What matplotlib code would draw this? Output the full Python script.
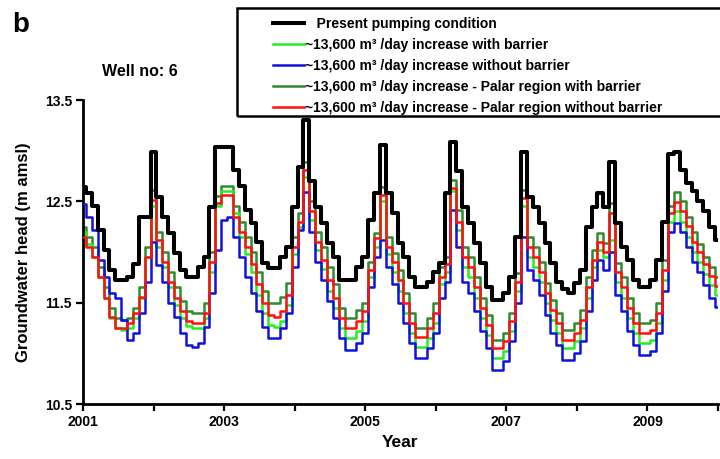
import numpy as np
import matplotlib
matplotlib.use("Agg")
import matplotlib.pyplot as plt
from matplotlib.patches import Rectangle

plt.rcParams['font.family'] = ['Liberation Sans', 'DejaVu Sans']
plt.rcParams['font.weight'] = 'bold'

# monthly index from Jan 2001 to Jan 2010
months = np.arange(109)
start_year = 2001

present = [12.64, 12.58, 12.45, 12.22, 12.02, 11.82, 11.72, 11.72, 11.75, 11.88, 12.35, 12.35,
           12.99, 12.54, 12.35, 12.19, 11.99, 11.82, 11.75, 11.75, 11.85, 11.95, 12.44, 13.04,
           13.04, 13.04, 12.81, 12.65, 12.41, 12.29, 12.10, 11.89, 11.84, 11.84, 11.95, 12.05,
           12.44, 12.84, 13.30, 12.70, 12.44, 12.29, 12.09, 11.95, 11.72, 11.72, 11.72, 11.85,
           11.95, 12.32, 12.58, 13.06, 12.58, 12.38, 12.09, 11.95, 11.75, 11.65, 11.65, 11.70,
           11.80, 11.89, 12.58, 13.09, 12.80, 12.44, 12.29, 12.09, 11.89, 11.65, 11.53, 11.53,
           11.60, 11.75, 12.15, 12.99, 12.54, 12.44, 12.29, 12.09, 11.89, 11.70, 11.63, 11.60,
           11.69, 11.82, 12.25, 12.44, 12.58, 12.44, 12.89, 12.29, 12.05, 11.92, 11.72, 11.65,
           11.65, 11.72, 11.92, 12.30, 12.97, 12.99, 12.81, 12.68, 12.60, 12.50, 12.40, 12.25, 12.12]

with_barrier = [12.20, 12.08, 11.95, 11.75, 11.55, 11.35, 11.25, 11.23, 11.25, 11.35, 11.55, 11.95,
                12.45, 12.05, 11.85, 11.65, 11.48, 11.35, 11.27, 11.25, 11.25, 11.35, 11.80, 12.45,
                12.60, 12.60, 12.38, 12.15, 11.98, 11.80, 11.58, 11.40, 11.28, 11.26, 11.32, 11.48,
                11.98, 12.25, 12.74, 12.32, 12.02, 11.83, 11.62, 11.45, 11.25, 11.15, 11.15, 11.22,
                11.32, 11.75, 12.05, 12.50, 11.98, 11.80, 11.62, 11.40, 11.20, 11.06, 11.06, 11.15,
                11.30, 11.68, 11.80, 12.60, 12.22, 11.85, 11.75, 11.55, 11.35, 11.18, 10.95, 10.95,
                11.02, 11.22, 11.62, 12.45, 11.95, 11.85, 11.70, 11.50, 11.33, 11.20, 11.05, 11.05,
                11.12, 11.25, 11.55, 11.85, 12.02, 11.95, 12.12, 11.70, 11.55, 11.35, 11.20, 11.10,
                11.10, 11.13, 11.30, 11.72, 12.30, 12.40, 12.30, 12.15, 12.00, 11.90, 11.78, 11.67, 11.58]

without_barrier = [12.47, 12.35, 12.22, 11.92, 11.75, 11.60, 11.55, 11.33, 11.13, 11.20, 11.40, 11.70,
                   12.10, 11.87, 11.70, 11.50, 11.36, 11.20, 11.08, 11.06, 11.10, 11.26, 11.60, 12.02,
                   12.32, 12.35, 12.15, 11.95, 11.75, 11.60, 11.42, 11.26, 11.15, 11.15, 11.25, 11.40,
                   11.85, 12.22, 12.59, 12.20, 11.90, 11.72, 11.52, 11.35, 11.15, 11.03, 11.03, 11.10,
                   11.20, 11.65, 11.95, 12.12, 11.85, 11.68, 11.50, 11.30, 11.10, 10.95, 10.95, 11.05,
                   11.20, 11.55, 11.70, 12.41, 12.05, 11.70, 11.60, 11.42, 11.22, 11.05, 10.84, 10.84,
                   10.92, 11.12, 11.50, 12.15, 11.82, 11.72, 11.58, 11.38, 11.20, 11.08, 10.93, 10.93,
                   11.00, 11.12, 11.42, 11.72, 11.92, 11.82, 12.00, 11.58, 11.42, 11.22, 11.08, 10.98,
                   10.98, 11.02, 11.20, 11.62, 12.20, 12.29, 12.20, 12.05, 11.90, 11.80, 11.67, 11.55, 11.46]

palar_with = [12.25, 12.15, 12.05, 11.85, 11.65, 11.45, 11.35, 11.33, 11.35, 11.45, 11.65, 12.05,
              12.61, 12.20, 12.00, 11.80, 11.65, 11.52, 11.42, 11.40, 11.40, 11.50, 12.00, 12.55,
              12.65, 12.65, 12.45, 12.30, 12.15, 12.00, 11.80, 11.62, 11.50, 11.50, 11.56, 11.69,
              12.15, 12.38, 12.89, 12.50, 12.20, 12.05, 11.85, 11.68, 11.45, 11.35, 11.35, 11.43,
              11.50, 11.90, 12.19, 12.64, 12.15, 11.99, 11.82, 11.60, 11.40, 11.25, 11.25, 11.35,
              11.50, 11.85, 11.95, 12.71, 12.41, 12.05, 11.95, 11.75, 11.55, 11.38, 11.13, 11.13,
              11.20, 11.40, 11.79, 12.61, 12.15, 12.05, 11.90, 11.69, 11.53, 11.40, 11.23, 11.23,
              11.30, 11.43, 11.75, 12.02, 12.19, 12.09, 12.48, 11.89, 11.75, 11.55, 11.40, 11.30,
              11.30, 11.33, 11.50, 11.92, 12.45, 12.59, 12.50, 12.35, 12.20, 12.08, 11.95, 11.85, 11.75]

palar_without = [12.15, 12.05, 11.95, 11.75, 11.55, 11.36, 11.25, 11.25, 11.30, 11.40, 11.56, 11.95,
                 12.51, 12.12, 11.90, 11.70, 11.55, 11.42, 11.32, 11.30, 11.30, 11.40, 11.90, 12.48,
                 12.56, 12.56, 12.35, 12.20, 12.05, 11.88, 11.68, 11.50, 11.38, 11.36, 11.42, 11.58,
                 12.05, 12.30, 12.81, 12.40, 12.10, 11.92, 11.72, 11.55, 11.35, 11.25, 11.25, 11.32,
                 11.42, 11.82, 12.14, 12.56, 12.05, 11.90, 11.72, 11.50, 11.30, 11.16, 11.16, 11.25,
                 11.40, 11.75, 11.88, 12.63, 12.30, 11.95, 11.85, 11.65, 11.45, 11.28, 11.05, 11.05,
                 11.12, 11.32, 11.70, 12.53, 12.05, 11.95, 11.80, 11.60, 11.43, 11.30, 11.13, 11.13,
                 11.20, 11.33, 11.65, 11.92, 12.10, 12.00, 12.38, 11.80, 11.65, 11.45, 11.30, 11.20,
                 11.20, 11.23, 11.40, 11.82, 12.38, 12.49, 12.40, 12.26, 12.10, 12.00, 11.88, 11.76, 11.66]

labels = ["   Present pumping condition",
          "~13,600 m\u00b3 /day increase with barrier",
          "~13,600 m\u00b3 /day increase without barrier",
          "~13,600 m\u00b3 /day increase - Palar region with barrier",
          "~13,600 m\u00b3 /day increase - Palar region without barrier"]

year_ticks = list(range(2001, 2011))
year_labels = ["2001", "", "2003", "", "2005", "", "2007", "", "2009", ""]
y_ticks = [10.5, 11.5, 12.5, 13.5]

t = start_year + months / 12.0

fig = plt.figure(figsize=(7.2, 4.59), dpi=100)
ax = fig.add_axes([83/720, 1 - 404/459, (718 - 83)/720, (404 - 100)/459])

c_black = "#000000"
c_green = "#22ee22"
c_blue = "#1010e0"
c_dgreen = "#2e8b2e"
c_red = "#ff1010"

l_dg, = ax.plot(t, palar_with, color=c_dgreen, lw=1.8, drawstyle='steps-mid', zorder=2)
l_g, = ax.plot(t, with_barrier, color=c_green, lw=1.8, drawstyle='steps-mid', zorder=2)
l_b, = ax.plot(t, without_barrier, color=c_blue, lw=1.8, drawstyle='steps-mid', zorder=3)
l_r, = ax.plot(t, palar_without, color=c_red, lw=1.8, drawstyle='steps-mid', zorder=4)
l_k, = ax.plot(t, present, color=c_black, lw=2.9, drawstyle='steps-mid', zorder=5)

ax.set_xlim(2001, 2010)
ax.set_ylim(10.5, 13.5)
ax.set_xticks(year_ticks)
ax.set_xticklabels(year_labels)
ax.set_yticks(y_ticks)
ax.set_yticklabels([f"{v:.1f}" for v in y_ticks])
for s in ['top', 'right']:
    ax.spines[s].set_visible(False)
for s in ['left', 'bottom']:
    ax.spines[s].set_linewidth(2.0)
ax.tick_params(direction='out', length=5, width=1.6, labelsize=10, pad=3)
for lab in ax.get_xticklabels() + ax.get_yticklabels():
    lab.set_fontweight('bold')

ax.set_xlabel("Year", fontsize=12.5, fontweight='bold', labelpad=4)
ax.set_ylabel("Groundwater head (m amsl)", fontsize=12, fontweight='bold', labelpad=10)

fig.text(12/720, 1 - 25/459, "b", fontsize=20, fontweight='bold', va='center', ha='left')
fig.text(102/720, 1 - 72/459, "Well no: 6", fontsize=11.5, fontweight='bold', va='center', ha='left')

# legend box
rect = Rectangle((237/720, 1 - 116/459), (740 - 237)/720, (116 - 8)/459,
                 transform=fig.transFigure, fill=False, edgecolor='black', lw=1.8,
                 clip_on=False, zorder=10)
fig.patches.append(rect)

leg = fig.legend([l_k, l_g, l_b, l_dg, l_r], labels,
                 loc='upper left', bbox_to_anchor=(266/720, 1 - 10/459),
                 frameon=False, fontsize=10, handlelength=2.2, handletextpad=0.1,
                 labelspacing=0.5, borderpad=0.0)
for txt in leg.get_texts():
    txt.set_fontweight('bold')

fig.savefig("out.png", dpi=100)
